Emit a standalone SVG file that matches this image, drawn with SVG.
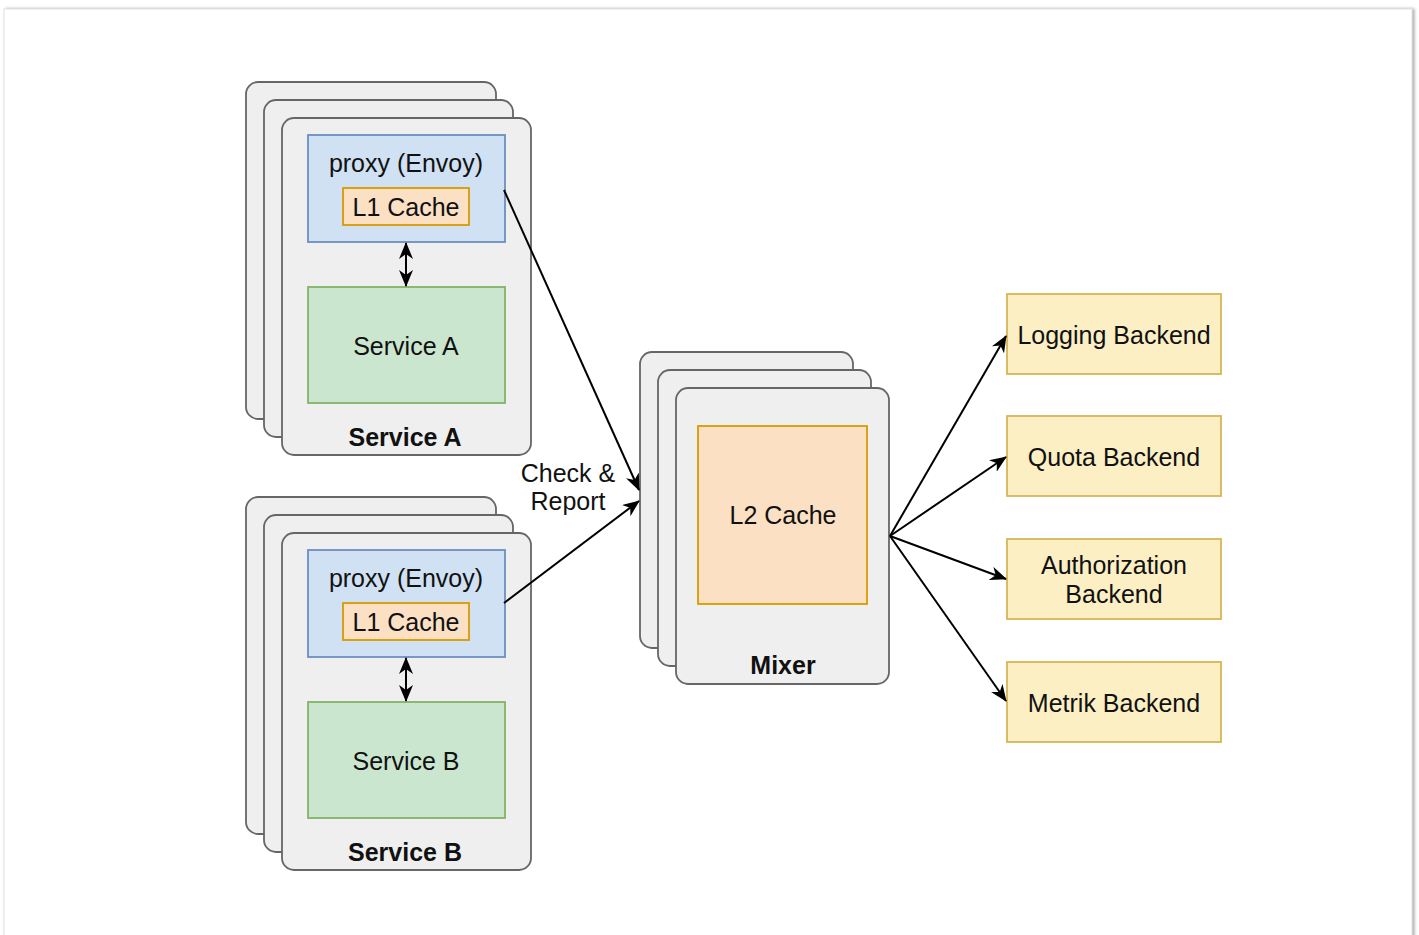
<svg xmlns="http://www.w3.org/2000/svg" width="1419" height="935" viewBox="0 0 1419 935">
<defs>
<marker id="arr" viewBox="0 0 17 14" refX="16" refY="7" markerWidth="17" markerHeight="14" markerUnits="userSpaceOnUse" orient="auto-start-reverse">
<path d="M0,0 L17,7 L0,14 L5,7 Z" fill="#000"/>
</marker>
<filter id="sh" x="-2%" y="-2%" width="104%" height="104%">
<feDropShadow dx="2" dy="0" stdDeviation="1.5" flood-color="#888" flood-opacity="0.7"/>
</filter>
</defs>
<style>
.card{fill:#efefef;stroke:#666;stroke-width:1.8}
.proxy{fill:#cfe1f3;stroke:#6c8ebf;stroke-width:1.8}
.l1{fill:#fbe0c4;stroke:#d79b00;stroke-width:1.8}
.svc{fill:#cbe6cf;stroke:#82b366;stroke-width:1.8}
.be{fill:#fcefc4;stroke:#d6b656;stroke-width:1.8}
text{font-family:"Liberation Sans",Arial,sans-serif;font-size:25px;fill:#111;text-anchor:middle}
.b{font-weight:bold}
.edge{stroke:#000;stroke-width:2;fill:none}
</style>
<rect width="1419" height="935" fill="#fff"/>
<rect x="4" y="9" width="1408" height="940" fill="#fff" stroke="#e2e2e2" stroke-width="1" filter="url(#sh)"/>

<g id="serviceA">
<rect class="card" x="246" y="82" width="250" height="337" rx="12"/>
<rect class="card" x="264" y="100" width="249" height="337" rx="12"/>
<rect class="card" x="282" y="118" width="249" height="337" rx="12"/>
<text class="b" x="405" y="446">Service A</text>
</g>
<g id="proxyA">
<rect class="proxy" x="308" y="135" width="197" height="107"/>
<text x="406" y="172">proxy (Envoy)</text>
</g>
<g id="l1A">
<rect class="l1" x="343" y="188" width="126" height="37"/>
<text x="406" y="216">L1 Cache</text>
</g>
<g id="svcA">
<rect class="svc" x="308" y="287" width="197" height="116"/>
<text x="406" y="355">Service A</text>
</g>

<g id="serviceB">
<rect class="card" x="246" y="497" width="250" height="337" rx="12"/>
<rect class="card" x="264" y="515" width="249" height="337" rx="12"/>
<rect class="card" x="282" y="533" width="249" height="337" rx="12"/>
<text class="b" x="405" y="861">Service B</text>
</g>
<g id="proxyB">
<rect class="proxy" x="308" y="550" width="197" height="107"/>
<text x="406" y="587">proxy (Envoy)</text>
</g>
<g id="l1B">
<rect class="l1" x="343" y="603" width="126" height="37"/>
<text x="406" y="631">L1 Cache</text>
</g>
<g id="svcB">
<rect class="svc" x="308" y="702" width="197" height="116"/>
<text x="406" y="770">Service B</text>
</g>

<g id="mixer">
<rect class="card" x="640" y="352" width="213" height="296" rx="12"/>
<rect class="card" x="658" y="370" width="213" height="296" rx="12"/>
<rect class="card" x="676" y="388" width="213" height="296" rx="12"/>
<text class="b" x="783" y="674">Mixer</text>
</g>
<g id="l2">
<rect class="l1" x="698" y="426" width="169" height="178"/>
<text x="783" y="524">L2 Cache</text>
</g>

<g id="logging">
<rect class="be" x="1007" y="294" width="214" height="80"/>
<text x="1114" y="344">Logging Backend</text>
</g>
<g id="quota">
<rect class="be" x="1007" y="416" width="214" height="80"/>
<text x="1114" y="466">Quota Backend</text>
</g>
<g id="authz">
<rect class="be" x="1007" y="539" width="214" height="80"/>
<text x="1114" y="574">Authorization</text>
<text x="1114" y="603">Backend</text>
</g>
<g id="metrik">
<rect class="be" x="1007" y="662" width="214" height="80"/>
<text x="1114" y="712">Metrik Backend</text>
</g>

<g id="connectors">
<line class="edge" x1="406" y1="243" x2="406" y2="286" marker-start="url(#arr)" marker-end="url(#arr)"/>
<line class="edge" x1="406" y1="658" x2="406" y2="701" marker-start="url(#arr)" marker-end="url(#arr)"/>
<line class="edge" x1="504" y1="190" x2="639" y2="490" marker-end="url(#arr)"/>
<line class="edge" x1="504" y1="603" x2="639" y2="501" marker-end="url(#arr)"/>
<line class="edge" x1="890" y1="536" x2="1006" y2="336" marker-end="url(#arr)"/>
<line class="edge" x1="890" y1="536" x2="1006" y2="457" marker-end="url(#arr)"/>
<line class="edge" x1="890" y1="536" x2="1006" y2="579" marker-end="url(#arr)"/>
<line class="edge" x1="890" y1="536" x2="1006" y2="701" marker-end="url(#arr)"/>
<text x="568" y="482">Check &amp;</text>
<text x="568" y="510">Report</text>
</g>
</svg>
